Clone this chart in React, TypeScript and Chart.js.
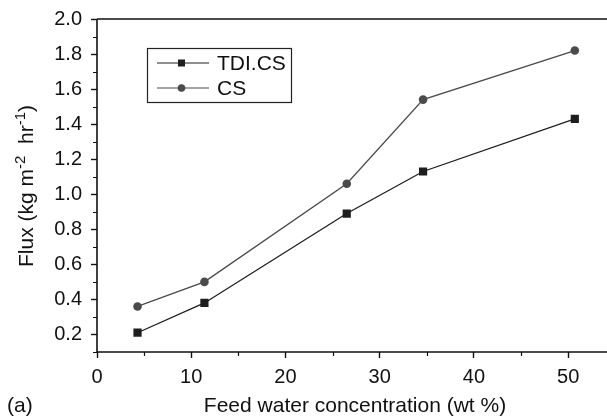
import React, { useEffect, useRef } from "react";
import { Chart, registerables } from "chart.js";

Chart.register(...registerables);

// Feed water concentration (wt %)
const feedConc = [4.3, 11.4, 26.5, 34.6, 50.7];
// Flux (kg m^-2 hr^-1)
const fluxTDICS = [0.21, 0.38, 0.89, 1.13, 1.43];
const fluxCS = [0.36, 0.5, 1.06, 1.54, 1.82];

const xTicks = [0, 10, 20, 30, 40, 50];
const xMinorTicks = [5, 15, 25, 35, 45];
const yTicks = [0.2, 0.4, 0.6, 0.8, 1.0, 1.2, 1.4, 1.6, 1.8, 2.0];
const yMinorTicks = [0.1, 0.3, 0.5, 0.7, 0.9, 1.1, 1.3, 1.5, 1.7, 1.9];

const FONT = "'Liberation Sans', Arial, Helvetica, sans-serif";
const INK = "#111";
const TEXT_SIZE = 21;
const TICK_SIZE = 20;

const decorPlugin = {
  id: "decor",
  afterDraw(chart: any) {
    const { ctx, chartArea, scales } = chart;
    const { left, top, bottom } = chartArea;
    const xs = scales.x;
    const ys = scales.y;
    ctx.save();
    ctx.strokeStyle = INK;
    ctx.fillStyle = INK;

    // frame: left axis, bottom axis, top line
    ctx.lineWidth = 1.6;
    ctx.beginPath();
    ctx.moveTo(left, top);
    ctx.lineTo(chart.width, top);
    ctx.moveTo(left, top);
    ctx.lineTo(left, bottom);
    ctx.lineTo(chart.width, bottom);
    ctx.stroke();

    // minor ticks
    ctx.lineWidth = 1.2;
    ctx.beginPath();
    xMinorTicks.forEach((v) => {
      const px = Math.round(xs.getPixelForValue(v)) + 0.5;
      ctx.moveTo(px, bottom);
      ctx.lineTo(px, bottom + 4);
    });
    yMinorTicks.forEach((v) => {
      const py = Math.round(ys.getPixelForValue(v)) + 0.5;
      ctx.moveTo(left, py);
      ctx.lineTo(left - 4, py);
    });
    ctx.stroke();

    // x axis title
    ctx.font = `${TEXT_SIZE}px ${FONT}`;
    ctx.textAlign = "center";
    ctx.textBaseline = "alphabetic";
    ctx.fillText("Feed water concentration (wt %)", 355, 412);

    // panel label
    ctx.textAlign = "left";
    ctx.fillText("(a)", 7, 412);

    // y axis title with superscripts
    const parts: [string, boolean][] = [
      ["Flux (kg m", false],
      ["-2", true],
      ["  hr", false],
      ["-1", true],
      [")", false],
    ];
    const setFont = (sup: boolean) => {
      ctx.font = sup ? `15px ${FONT}` : `${TEXT_SIZE}px ${FONT}`;
    };
    const total = parts.reduce((s, [t, sup]) => {
      setFont(sup);
      return s + ctx.measureText(t).width;
    }, 0);
    ctx.translate(33, 186);
    ctx.rotate(-Math.PI / 2);
    let cx = -total / 2;
    parts.forEach(([t, sup]) => {
      setFont(sup);
      ctx.fillText(t, cx, sup ? -8 : 0);
      cx += ctx.measureText(t).width;
    });
    ctx.setTransform(1, 0, 0, 1, 0, 0);

    // legend
    const bx = 147;
    const by = 48;
    const bw = 144;
    const bh = 54;
    ctx.lineWidth = 1.2;
    ctx.strokeStyle = "#222";
    ctx.strokeRect(bx + 0.5, by + 0.5, bw, bh);
    const rows = [
      { label: "TDI.CS", ds: chart.data.datasets[0], y: 63 },
      { label: "CS", ds: chart.data.datasets[1], y: 88 },
    ];
    rows.forEach(({ label, ds, y }) => {
      ctx.strokeStyle = ds.borderColor;
      ctx.lineWidth = 1.2;
      ctx.beginPath();
      ctx.moveTo(157, y);
      ctx.lineTo(209, y);
      ctx.stroke();
      ctx.fillStyle = ds.pointBackgroundColor;
      if (ds.pointStyle === "rect") {
        ctx.fillRect(178, y - 3.5, 7, 7);
      } else {
        ctx.beginPath();
        ctx.arc(181.5, y, 3.8, 0, Math.PI * 2);
        ctx.fill();
      }
      ctx.fillStyle = INK;
      ctx.font = `${TEXT_SIZE}px ${FONT}`;
      ctx.textAlign = "left";
      ctx.textBaseline = "middle";
      ctx.fillText(label, 217, y + 1);
    });

    ctx.restore();
  },
};

export default function App() {
  const canvasRef = useRef<HTMLCanvasElement | null>(null);

  useEffect(() => {
    document.body.style.margin = "0";
    const canvas = canvasRef.current;
    if (!canvas) return;
    const chart = new Chart(canvas, {
      type: "line",
      data: {
        datasets: [
          {
            label: "TDI.CS",
            data: feedConc.map((x, i) => ({ x, y: fluxTDICS[i] })),
            borderColor: "#1e1e1e",
            backgroundColor: "#1e1e1e",
            pointBackgroundColor: "#1e1e1e",
            pointBorderColor: "#1e1e1e",
            pointStyle: "rect",
            pointRadius: 5.8,
            pointBorderWidth: 0,
            borderWidth: 1.3,
            tension: 0,
          },
          {
            label: "CS",
            data: feedConc.map((x, i) => ({ x, y: fluxCS[i] })),
            borderColor: "#4a4a4a",
            backgroundColor: "#4a4a4a",
            pointBackgroundColor: "#4a4a4a",
            pointBorderColor: "#4a4a4a",
            pointStyle: "circle",
            pointRadius: 4.3,
            pointBorderWidth: 0,
            borderWidth: 1.3,
            tension: 0,
          },
        ],
      },
      options: {
        responsive: false,
        animation: false,
        layout: { padding: { top: 19, right: 0, left: 0, bottom: 0 } },
        plugins: {
          legend: { display: false },
          tooltip: { enabled: false },
        },
        scales: {
          x: {
            type: "linear",
            min: 0,
            max: 53.5,
            afterBuildTicks: (s: any) => {
              s.ticks = xTicks.map((value) => ({ value }));
            },
            afterFit: (s: any) => {
              s.height = 65;
              s.paddingRight = 0;
              s.paddingLeft = 0;
            },
            grid: {
              drawOnChartArea: false,
              drawTicks: true,
              tickLength: 6,
              tickWidth: 1.4,
              tickColor: INK,
            },
            border: { display: false },
            ticks: {
              color: INK,
              font: { family: FONT, size: TICK_SIZE },
              padding: 7,
              maxRotation: 0,
            },
          },
          y: {
            type: "linear",
            min: 0.1,
            max: 2.0,
            afterBuildTicks: (s: any) => {
              s.ticks = yTicks.map((value) => ({ value }));
            },
            afterFit: (s: any) => {
              s.width = 97;
              s.paddingTop = 0;
              s.paddingBottom = 0;
            },
            grid: {
              drawOnChartArea: false,
              drawTicks: true,
              tickLength: 6,
              tickWidth: 1.4,
              tickColor: INK,
            },
            border: { display: false },
            ticks: {
              color: INK,
              font: { family: FONT, size: TICK_SIZE },
              padding: 9,
              callback: (v: any) => Number(v).toFixed(1),
            },
          },
        },
      },
      plugins: [decorPlugin],
    });
    return () => chart.destroy();
  }, []);

  return (
    <div style={{ width: 607, height: 417, background: "#fff" }}>
      <canvas ref={canvasRef} width={607} height={417} style={{ display: "block" }} />
    </div>
  );
}
